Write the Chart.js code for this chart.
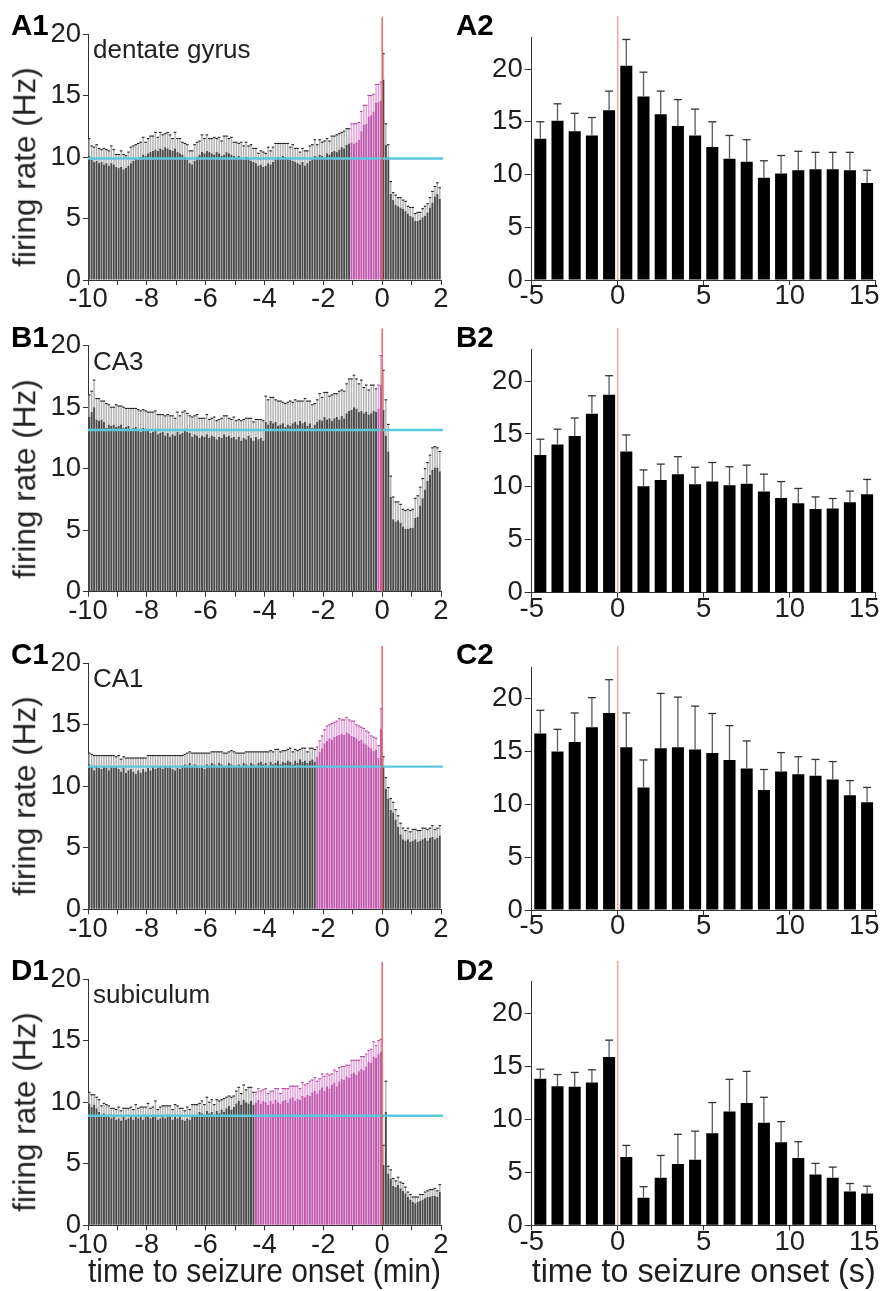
<!DOCTYPE html>
<html>
<head>
<meta charset="utf-8">
<title>Firing rate around seizure onset</title>
<script src="https://cdn.jsdelivr.net/npm/chart.js@4.4.1/dist/chart.umd.min.js"></script>
<style>
  html, body { margin: 0; padding: 0; width: 885px; height: 1291px; overflow: hidden; background: #fff; }
  body { position: relative; font-family: "Liberation Sans", Arial, Helvetica, sans-serif; color: #222; }
  canvas { position: absolute; }
  .panel { position: absolute; font-weight: bold; font-size: 29.5px; line-height: 1; color: #000; white-space: nowrap; }
  .region { position: absolute; font-size: 26px; line-height: 1; color: #222; white-space: nowrap; }
  .ytitle { position: absolute; font-size: 31.5px; line-height: 1; color: #222; white-space: nowrap;
            transform: translate(-50%, -50%) rotate(-90deg); }
</style>
</head>
<body>
<script>
// ---- data -------------------------------------------------------------

// left column: 5-s bins from -10 to +2 min (bin centres, minutes)
const minuteBins = [];
for (let i = 0; i < 144; i++) minuteBins.push(-10 + (i + 0.5) / 12);

// right column: 1-s bins from -5 to +15 s (bin centres, seconds)
const secondBins = [-4.5, -3.5, -2.5, -1.5, -0.5, 0.5, 1.5, 2.5, 3.5, 4.5,
                    5.5, 6.5, 7.5, 8.5, 9.5, 10.5, 11.5, 12.5, 13.5, 14.5];

const regions = ['dentate gyrus', 'CA3', 'CA1', 'subiculum'];

// dentate gyrus, minutes scale (one row = one minute)
const dgMin = [
  10.1, 9.8, 9.6, 9.7, 9.5, 9.6, 9.4, 9.5, 9.3, 9.5, 9.4, 9.2,
  9.1, 9.2, 9.0, 9.1, 9.3, 9.5, 9.7, 9.9, 9.8, 10.0, 10.2, 10.1,
  10.3, 10.4, 10.5, 10.6, 10.5, 10.7, 10.6, 10.8, 10.7, 10.6, 10.5, 10.7,
  10.4, 10.3, 10.2, 10.0, 9.8, 9.5, 9.4, 9.7, 10.0, 10.2, 10.4, 10.3,
  10.5, 10.4, 10.3, 10.2, 10.4, 10.3, 10.1, 10.2, 10.4, 10.3, 10.2, 10.1,
  10.0, 10.1, 9.9, 9.8, 10.0, 9.9, 9.7, 9.6, 9.5, 9.3, 9.4, 9.2,
  9.3, 9.5, 9.4, 9.6, 9.8, 10.0, 9.9, 10.1, 10.0, 9.9, 9.8, 9.7,
  9.6, 9.5, 9.4, 9.6, 9.3, 9.5, 9.7, 9.9, 10.1, 10.0, 10.2, 10.1,
  10.0, 10.3, 10.2, 10.4, 10.5, 10.4, 10.6, 10.8, 10.7, 11.0, 11.1, 11.2,
  11.1, 11.2, 11.4, 12.1, 12.6, 12.7, 13.3, 13.4, 13.7, 14.4, 14.5, 14.6,
  16.3, 11.0, 10.0, 7.0, 6.5, 6.1, 6.0, 5.9, 5.8, 5.6, 5.4, 5.2,
  5.1, 4.8, 4.8, 4.9, 5.1, 5.2, 5.5, 5.9, 6.3, 6.8, 7.0, 6.6
];
const dgMinSem = [
  1.4, 1.1, 1.2, 1.3, 1.2, 1.0, 1.3, 1.1, 1.2, 1.4, 1.2, 1.0,
  1.1, 1.3, 1.2, 1.0, 1.1, 1.3, 1.2, 1.1, 1.3, 1.2, 1.4, 1.1,
  1.2, 1.3, 1.2, 1.4, 1.1, 1.3, 1.2, 1.1, 1.3, 1.2, 1.0, 1.3,
  1.1, 1.2, 1.0, 1.1, 1.2, 1.0, 1.1, 1.3, 1.2, 1.1, 1.4, 1.2,
  1.3, 1.1, 1.2, 1.4, 1.1, 1.3, 1.2, 1.5, 1.3, 1.2, 1.4, 1.1,
  1.2, 1.0, 1.3, 1.1, 1.2, 1.0, 1.3, 1.1, 1.2, 1.0, 1.1, 1.2,
  1.0, 1.3, 1.1, 1.2, 1.3, 1.1, 1.2, 1.0, 1.1, 1.2, 1.0, 1.3,
  1.1, 1.2, 1.0, 1.1, 1.2, 1.0, 1.2, 1.1, 1.3, 1.0, 1.2, 1.1,
  1.3, 1.2, 1.1, 1.3, 1.2, 1.4, 1.3, 1.2, 1.4, 1.3, 1.2, 1.5,
  1.6, 1.5, 1.4, 1.6, 1.6, 1.5, 1.7, 1.6, 1.4, 1.5, 1.4, 1.5,
  2.1, 1.7, 1.0, 1.0, 0.6, 0.8, 0.7, 0.8, 0.7, 0.8, 0.6, 0.7,
  0.8, 0.6, 0.7, 0.6, 0.7, 0.8, 0.7, 0.8, 0.9, 0.8, 0.9, 0.9
];

// CA3, minutes scale
const ca3Min = [
  14.2, 14.6, 15.0, 14.0, 13.9, 14.0, 13.8, 13.3, 13.6, 13.5, 13.6, 13.4,
  13.5, 13.6, 13.3, 13.4, 13.5, 13.2, 13.3, 13.4, 13.2, 13.0, 13.3, 13.1,
  13.2, 12.9, 13.0, 13.2, 12.8, 12.9, 13.0, 12.7, 12.9, 12.6, 12.8, 12.7,
  13.0, 12.8, 12.9, 13.1, 13.0, 12.9, 12.6, 12.8, 12.7, 12.5, 12.7, 12.6,
  12.8, 12.5, 12.7, 12.6, 12.4, 12.6, 12.5, 12.8, 12.6, 12.7, 12.5, 12.6,
  12.4, 12.6, 12.3, 12.5, 12.4, 12.7, 12.5, 12.3, 12.6, 12.4, 12.5, 12.3,
  13.8, 13.6, 13.9, 13.7, 13.8, 13.5, 13.6, 13.7, 13.4, 13.6, 13.5, 13.7,
  13.8, 13.6, 13.9, 13.7, 13.8, 13.5, 13.7, 13.3, 13.6, 13.8, 14.0, 13.9,
  14.2, 14.0, 14.1, 13.9, 14.1, 14.2, 14.0, 14.3, 14.1, 14.5, 14.7, 14.8,
  15.0, 14.9, 14.6, 14.7, 14.5, 14.6, 14.4, 14.5, 14.7, 14.6, 14.9, 16.8,
  14.8, 12.7, 11.4, 7.7, 5.9, 5.7, 5.8, 5.6, 5.3, 5.1, 5.1, 5.2,
  5.2, 6.0, 6.1, 7.0, 7.6, 8.3, 9.0, 9.5, 9.9, 10.1, 10.1, 9.8
];
const ca3MinSem = [
  1.8, 1.7, 2.2, 1.7, 1.8, 1.5, 1.7, 2.0, 1.6, 1.5, 1.4, 1.8,
  1.6, 1.5, 1.7, 1.5, 1.4, 1.7, 1.6, 1.5, 1.6, 1.7, 1.5, 1.6,
  1.4, 1.7, 1.6, 1.5, 1.6, 1.5, 1.4, 1.6, 1.5, 1.7, 1.5, 1.4,
  1.6, 1.5, 1.7, 1.6, 1.5, 1.4, 1.6, 1.5, 1.7, 1.6, 1.4, 1.5,
  1.6, 1.5, 1.4, 1.6, 1.5, 1.4, 1.6, 1.5, 1.7, 1.4, 1.5, 1.6,
  1.5, 1.4, 1.6, 1.5, 1.7, 1.4, 1.6, 1.5, 1.4, 1.6, 1.5, 1.6,
  2.1, 2.0, 1.9, 2.1, 1.8, 2.0, 1.9, 1.7, 1.9, 1.8, 2.0, 1.7,
  1.8, 1.9, 1.6, 1.8, 1.9, 2.0, 1.8, 1.9, 1.7, 1.8, 2.1, 1.9,
  2.0, 2.2, 1.8, 2.1, 2.0, 1.9, 2.3, 2.1, 2.2, 2.4, 2.6, 2.5,
  2.6, 2.4, 2.3, 2.5, 2.1, 2.2, 2.0, 2.3, 2.1, 1.9, 1.9, 2.4,
  3.2, 2.9, 2.2, 1.7, 1.8, 1.6, 1.5, 1.5, 1.4, 1.5, 1.6, 1.4,
  1.5, 1.6, 1.7, 1.5, 1.6, 1.7, 1.5, 1.6, 1.8, 1.7, 1.6, 1.6
];

// CA1, minutes scale
const ca1Min = [
  11.8, 11.6, 11.3, 11.7, 11.5, 11.4, 11.6, 11.5, 11.3, 11.6, 11.5, 11.6,
  11.4, 11.2, 11.5, 11.1, 11.3, 11.4, 11.2, 11.0, 11.3, 11.1, 11.4, 11.2,
  11.5, 11.3, 11.6, 11.4, 11.5, 11.6, 11.4, 11.7, 11.5, 11.6, 11.4, 11.3,
  11.5, 11.4, 11.6, 11.8, 11.7, 11.9, 11.6, 11.8, 11.7, 11.5, 11.6, 11.4,
  11.8, 11.7, 11.9, 11.8, 11.7, 11.9, 11.8, 11.6, 11.7, 11.9, 11.8, 11.6,
  11.7, 11.8, 11.6, 11.9, 11.8, 11.7, 11.9, 11.8, 11.7, 11.9, 12.0, 11.8,
  11.9, 11.7, 12.0, 11.8, 11.9, 12.1, 11.8, 12.0, 11.9, 12.1, 12.0, 11.8,
  12.1, 11.9, 12.2, 12.0, 12.1, 11.9, 12.1, 12.2, 12.0, 12.4, 12.8, 13.1,
  13.5, 13.7, 13.9, 13.8, 14.0, 14.1, 14.2, 14.3, 14.2, 14.4, 14.3, 14.1,
  14.0, 13.9, 13.7, 13.8, 13.5, 13.4, 13.2, 13.1, 12.9, 13.0, 12.3, 14.7,
  11.6, 9.8, 9.0, 8.1, 7.9, 7.3, 6.7, 6.1, 5.7, 5.6, 5.7, 5.5,
  5.6, 5.7, 5.5, 5.6, 5.7, 5.8, 5.6, 5.8, 5.9, 5.7, 5.8, 6.0
];
const ca1MinSem = [
  0.9, 1.0, 1.2, 0.8, 1.0, 1.1, 0.9, 1.0, 1.2, 0.9, 1.0, 0.8,
  1.1, 1.0, 0.9, 1.2, 1.0, 0.9, 1.1, 1.3, 1.0, 1.2, 0.9, 1.1,
  1.0, 1.2, 0.9, 1.1, 1.0, 0.9, 1.1, 0.8, 1.0, 0.9, 1.1, 1.2,
  1.0, 1.1, 0.9, 0.8, 1.0, 0.9, 1.1, 0.9, 1.0, 1.2, 1.1, 1.3,
  0.9, 1.0, 0.9, 1.0, 1.1, 0.9, 1.0, 1.1, 1.0, 0.9, 1.1, 1.2,
  1.0, 0.9, 1.1, 0.8, 1.0, 1.1, 0.9, 1.0, 1.1, 0.9, 0.8, 1.0,
  0.9, 1.1, 0.9, 1.0, 1.1, 0.9, 1.0, 0.9, 1.0, 0.9, 1.1, 1.0,
  0.9, 1.0, 0.8, 1.1, 1.0, 0.9, 1.0, 0.9, 1.0, 0.8, 0.9, 1.0,
  1.1, 1.2, 1.1, 1.3, 1.2, 1.2, 1.3, 1.1, 1.2, 1.2, 1.1, 1.2,
  1.3, 1.1, 1.2, 1.0, 1.2, 1.1, 1.2, 1.0, 1.1, 0.9, 1.0, 1.6,
  0.8, 0.9, 0.9, 0.9, 0.8, 0.8, 0.9, 0.9, 0.9, 0.8, 0.9, 0.8,
  0.9, 0.8, 0.9, 0.8, 0.9, 0.8, 0.9, 0.8, 0.9, 0.8, 0.8, 0.8
];

// subiculum, minutes scale
const subMin = [
  9.9, 9.6, 9.8, 9.5, 9.2, 9.0, 9.1, 8.9, 9.0, 8.7, 8.8, 8.6,
  8.7, 8.5, 8.8, 8.6, 8.7, 8.9, 8.6, 8.8, 8.7, 8.9, 8.6, 8.8,
  9.0, 8.7, 8.9, 8.8, 8.6, 8.7, 8.9, 8.7, 9.0, 8.8, 8.6, 8.9,
  8.7, 8.8, 8.6, 8.5, 8.7, 8.6, 8.8, 9.0, 8.9, 9.2, 9.1, 9.0,
  9.3, 9.1, 9.2, 9.0, 9.3, 9.1, 9.4, 9.2, 9.5, 9.7, 9.4, 9.6,
  9.9, 10.1, 9.8, 10.2, 10.0, 9.9, 10.1, 9.8, 10.0, 10.2, 9.9, 10.1,
  10.0, 9.8, 10.1, 9.9, 10.2, 10.0, 9.9, 10.1, 10.2, 10.0, 10.3, 10.4,
  10.1, 10.3, 10.2, 10.5, 10.4, 10.6, 10.5, 10.8, 10.9, 10.7, 11.0, 11.2,
  10.9, 11.3, 11.1, 11.4, 11.6, 11.3, 11.7, 11.9, 11.8, 12.1, 12.0, 12.3,
  12.4, 12.2, 12.5, 12.7, 12.6, 12.9, 13.3, 13.2, 13.7, 13.6, 13.9, 14.1,
  4.9, 9.2, 4.2, 3.8, 3.2, 3.1, 3.3, 3.0, 2.8, 2.6, 2.3, 2.1,
  1.9, 1.8, 1.9, 2.0, 2.1, 2.2, 2.3, 2.3, 2.4, 2.4, 2.3, 2.7
];
const subMinSem = [
  0.9, 1.0, 0.8, 0.9, 1.0, 0.7, 0.8, 0.9, 0.7, 0.8, 0.7, 0.8,
  0.9, 0.8, 0.7, 0.9, 0.8, 0.7, 0.8, 1.0, 0.8, 0.7, 1.0, 0.8,
  0.9, 0.8, 0.7, 1.3, 0.8, 0.9, 0.8, 1.0, 0.7, 0.9, 0.8, 0.9,
  1.0, 0.7, 0.9, 0.8, 0.9, 0.8, 1.0, 0.8, 0.9, 0.7, 1.0, 0.8,
  1.1, 0.9, 1.0, 0.8, 0.9, 1.0, 0.8, 1.1, 0.9, 0.8, 1.0, 0.9,
  1.0, 1.1, 0.9, 1.2, 1.0, 1.3, 1.1, 1.0, 0.8, 0.9, 1.0, 0.9,
  1.1, 0.9, 0.8, 1.0, 0.9, 1.1, 0.8, 1.0, 0.9, 1.1, 1.0, 0.9,
  1.2, 1.0, 0.9, 1.1, 1.0, 0.9, 1.2, 1.0, 1.1, 1.0, 0.9, 1.1,
  1.2, 1.0, 1.1, 0.9, 1.0, 1.2, 1.1, 1.0, 1.1, 0.9, 1.0, 1.1,
  1.0, 1.2, 0.9, 1.0, 1.1, 1.0, 0.9, 1.1, 1.2, 1.0, 1.1, 1.0,
  1.6, 2.5, 0.6, 0.7, 0.6, 0.5, 0.6, 0.5, 0.6, 0.5, 0.4, 0.4,
  0.4, 0.5, 0.4, 0.5, 0.4, 0.5, 0.5, 0.6, 0.5, 0.6, 0.5, 0.6
];

// first pre-seizure bin drawn in magenta (index into minuteBins)
const dgRiseFrom = 107;
const ca3RiseFrom = 118;
const ca1RiseFrom = 93;
const subRiseFrom = 68;

// baseline firing rate (cyan line), Hz
const dgBaseline = 9.88;
const ca3Baseline = 13.15;
const ca1Baseline = 11.6;
const subBaseline = 8.89;

// seconds scale
const dgSec = [13.4, 15.1, 14.1, 13.7, 16.1, 20.3, 17.4, 15.7, 14.6, 13.7,
               12.6, 11.5, 11.2, 9.7, 10.1, 10.4, 10.5, 10.5, 10.4, 9.2];
const dgSecSem = [1.6, 1.6, 1.7, 1.7, 1.8, 2.5, 2.3, 2.2, 2.5, 2.5,
                  2.4, 2.2, 2.1, 1.6, 1.7, 1.8, 1.6, 1.6, 1.7, 1.2];
const ca3Sec = [13.0, 14.0, 14.8, 16.9, 18.7, 13.35, 10.05, 10.65, 11.2, 10.25,
                10.5, 10.15, 10.3, 9.55, 8.95, 8.45, 7.9, 7.95, 8.55, 9.3];
const ca3SecSem = [1.5, 1.45, 1.7, 1.7, 1.8, 1.55, 1.55, 1.5, 1.65, 1.6,
                   1.8, 1.75, 1.75, 1.65, 1.55, 1.4, 1.15, 0.95, 1.05, 1.4];
const ca1Sec = [16.7, 15.0, 15.9, 17.3, 18.65, 15.4, 11.6, 15.3, 15.4, 15.2,
                14.85, 14.2, 13.4, 11.35, 13.1, 12.85, 12.7, 12.35, 10.85, 10.2];
const ca1SecSem = [2.2, 2.1, 2.75, 2.8, 3.15, 3.25, 2.6, 5.2, 4.75, 4.1,
                   3.75, 3.25, 2.6, 1.95, 1.8, 1.65, 1.55, 1.7, 1.4, 1.4];
const subSec = [13.85, 13.15, 13.1, 13.5, 15.9, 6.45, 2.6, 4.5, 5.8, 6.2,
                8.7, 10.75, 11.55, 9.7, 7.85, 6.35, 4.8, 4.5, 3.2, 3.0];
const subSecSem = [0.9, 1.1, 1.35, 1.2, 1.6, 1.1, 1.05, 2.1, 2.8, 2.7,
                   2.9, 3.05, 3.0, 2.4, 1.95, 1.55, 1.05, 1.0, 0.75, 0.7];

// ---- style ------------------------------------------------------------
const FONT = '"Liberation Sans", Arial, Helvetica, sans-serif';
const INK = '#1e1e1e';
const AXIS = '#333';
const BAR_GRAY = '#4a4a4a';
const BAR_MAGENTA = '#c059ad';
const CYAN = '#5bc8dc';
const RED_LEFT = '#f0504a';
const RED_RIGHT = '#f4a896';

Chart.defaults.font.family = FONT;
Chart.defaults.color = INK;
Chart.defaults.animation = false;

// pixel rows of the figure: [y at 20 Hz, y at 0 Hz]
const rowsLeft = [[34, 280], [345.7, 591.7], [663.3, 909.3], [979, 1225.3]];
const rowsRight = [[69, 280], [381, 592.7], [698.7, 910], [1013.7, 1225.3]];
const tags = ['A', 'B', 'C', 'D'];

function addText(cls, text, left, top) {
  const d = document.createElement('div');
  d.className = cls;
  d.textContent = text;
  d.style.left = left + 'px';
  d.style.top = top + 'px';
  document.body.appendChild(d);
}

function addCanvas(left, top, w, h) {
  const c = document.createElement('canvas');
  c.width = w; c.height = h;
  c.style.left = left + 'px'; c.style.top = top + 'px';
  c.style.width = w + 'px'; c.style.height = h + 'px';
  document.body.appendChild(c);
  return c;
}

// error bars, baseline and seizure-onset line
function decor(bins, means, sems, look) {
  return {
    id: 'decor',
    afterDatasetsDraw(chart) {
      const { ctx } = chart;
      const xs = chart.scales.x, ys = chart.scales.y;
      ctx.save();
      bins.forEach((b, i) => {
        const px = xs.getPixelForValue(b);
        const y1 = ys.getPixelForValue(means[i]);
        const y2 = ys.getPixelForValue(means[i] + sems[i]);
        const hot = look.hot(i);
        ctx.strokeStyle = hot ? look.whiskerHot : look.whisker;
        ctx.lineWidth = look.whiskerWidth;
        ctx.beginPath(); ctx.moveTo(px, y1); ctx.lineTo(px, y2); ctx.stroke();
        ctx.strokeStyle = hot ? look.capHot : look.cap;
        ctx.lineWidth = look.capWidth;
        ctx.beginPath(); ctx.moveTo(px - look.capHalf, y2); ctx.lineTo(px + look.capHalf, y2); ctx.stroke();
      });
      if (look.baseline != null) {
        const yb = ys.getPixelForValue(look.baseline);
        ctx.strokeStyle = CYAN;
        ctx.lineWidth = 2.4;
        ctx.beginPath(); ctx.moveTo(xs.left, yb); ctx.lineTo(xs.right + 2, yb); ctx.stroke();
      }
      const x0 = xs.getPixelForValue(0);
      ctx.strokeStyle = look.red;
      ctx.lineWidth = look.redWidth;
      ctx.beginPath();
      ctx.moveTo(x0, ys.getPixelForValue(0));
      ctx.lineTo(x0, ys.getPixelForValue(look.redTop));
      ctx.stroke();
      ctx.restore();
    }
  };
}

const tickFont = { family: FONT, size: 27.5, lineHeight: 1 };
const titleFont = { family: FONT, size: 32.5 };

function leftPanel(row, means, sems, riseFrom, baseline) {
  const [y20, y0] = rowsLeft[row];
  const last = row === 3;
  const top = Math.floor(y20 - 30);
  const bottom = last ? 1293 : Math.round(y0 + 40);
  const h = bottom - top;
  const cv = addCanvas(0, top, 460, h);
  const hot = i => i >= riseFrom && minuteBins[i] < 0;
  new Chart(cv, {
    type: 'bar',
    data: {
      datasets: [{
        data: minuteBins.map((b, i) => ({ x: b, y: means[i] })),
        backgroundColor: minuteBins.map((b, i) => hot(i) ? BAR_MAGENTA : BAR_GRAY),
        borderWidth: 0,
        barPercentage: 0.8,
        categoryPercentage: 1
      }]
    },
    options: {
      responsive: false,
      devicePixelRatio: 1,
      layout: { padding: { top: y20 - top, right: 19, left: 0, bottom: 0 } },
      plugins: { legend: { display: false }, tooltip: { enabled: false } },
      scales: {
        x: {
          type: 'linear', min: -10, max: 2, offset: false,
          ticks: {
            stepSize: 1, maxTicksLimit: 30, autoSkip: false, maxRotation: 0, minRotation: 0,
            padding: 1, font: tickFont, color: INK,
            callback: v => (v % 2 === 0 ? String(v) : '')
          },
          grid: { drawOnChartArea: false, drawTicks: true, tickLength: 5, color: AXIS, offset: false },
          border: { display: true, color: AXIS, width: 1 },
          title: {
            display: last, text: 'time to seizure onset (min)', color: INK,
            font: titleFont, padding: 0
          },
          afterFit: s => { s.height = bottom - y0; }
        },
        y: {
          min: 0, max: 20,
          ticks: { stepSize: 5, padding: 2, font: tickFont, color: INK },
          grid: { drawOnChartArea: false, drawTicks: true, tickLength: 5, color: AXIS },
          border: { display: true, color: AXIS, width: 1 },
          afterFit: s => { s.width = 88; }
        }
      }
    },
    plugins: [decor(minuteBins, means, sems, {
      hot, whisker: '#b4b4b4', whiskerHot: '#e4a4da', cap: '#222', capHot: '#b04a9e',
      whiskerWidth: 1.5, capWidth: 1.1, capHalf: 1.3,
      baseline, red: RED_LEFT, redWidth: 1.3, redTop: 21.4
    })]
  });

  addText('panel', tags[row] + '1', 11, y20 + 1 - 25);
  addText('region', regions[row], 93, y20 + 24 - 22);
  addText('ytitle', 'firing rate (Hz)', 25.3, y20 + 133);
}

function rightPanel(row, means, sems) {
  const [y20, y0] = rowsRight[row];
  const last = row === 3;
  const yTop = y0 - 23 * (y0 - y20) / 20;
  const top = Math.floor(yTop - 30);
  const bottom = last ? 1293 : Math.round(y0 + 40);
  const h = bottom - top;
  const cv = addCanvas(460, top, 445, h);
  new Chart(cv, {
    type: 'bar',
    data: {
      datasets: [{
        data: secondBins.map((b, i) => ({ x: b, y: means[i] })),
        backgroundColor: '#000',
        borderWidth: 0,
        barPercentage: 0.7,
        categoryPercentage: 1
      }]
    },
    options: {
      responsive: false,
      devicePixelRatio: 1,
      layout: { padding: { top: yTop - top, right: 29.3, left: 0, bottom: 0 } },
      plugins: { legend: { display: false }, tooltip: { enabled: false } },
      scales: {
        x: {
          type: 'linear', min: -5, max: 15, offset: false,
          ticks: {
            stepSize: 5, autoSkip: false, maxRotation: 0, minRotation: 0,
            padding: -2, font: tickFont, color: INK,
            callback: v => (v === 15 ? '15   ' : String(v))
          },
          grid: { drawOnChartArea: false, drawTicks: true, tickLength: 5, color: AXIS, offset: false },
          border: { display: true, color: AXIS, width: 1 },
          title: {
            display: last, text: 'time to seizure onset (s)', color: INK,
            font: titleFont, padding: 0
          },
          afterFit: s => { s.height = bottom - y0; }
        },
        y: {
          min: 0, max: 23,
          ticks: { stepSize: 5, includeBounds: false, padding: 2, font: tickFont, color: INK },
          afterBuildTicks: s => { s.ticks = s.ticks.filter(t => t.value <= 20); },
          grid: { drawOnChartArea: false, drawTicks: true, tickLength: 7, color: AXIS },
          border: { display: true, color: AXIS, width: 1 },
          afterFit: s => { s.width = 71.7; }
        }
      }
    },
    plugins: [decor(secondBins, means, sems, {
      hot: () => false, whisker: '#5a5a5a', whiskerHot: '#5a5a5a', cap: '#333', capHot: '#333',
      whiskerWidth: 1.3, capWidth: 1.3, capHalf: 4,
      baseline: null, red: RED_RIGHT, redWidth: 1.5, redTop: 25
    })]
  });

  addText('panel', tags[row] + '2', 456, rowsLeft[row][0] + 1 - 25);
}

leftPanel(0, dgMin, dgMinSem, dgRiseFrom, dgBaseline);
leftPanel(1, ca3Min, ca3MinSem, ca3RiseFrom, ca3Baseline);
leftPanel(2, ca1Min, ca1MinSem, ca1RiseFrom, ca1Baseline);
leftPanel(3, subMin, subMinSem, subRiseFrom, subBaseline);

rightPanel(0, dgSec, dgSecSem);
rightPanel(1, ca3Sec, ca3SecSem);
rightPanel(2, ca1Sec, ca1SecSem);
rightPanel(3, subSec, subSecSem);
</script>
</body>
</html>
